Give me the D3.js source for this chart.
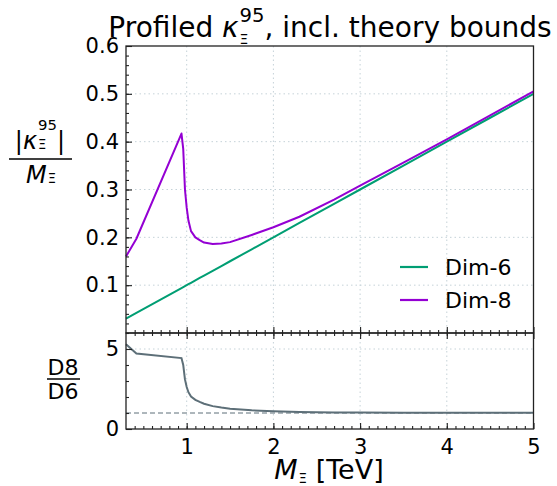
<!DOCTYPE html>
<html lang="en">
<head>
<meta charset="UTF-8">
<title>Profiled kappa</title>
<script src="https://d3js.org/d3.v7.min.js"></script>
<style>
  body { margin: 0; background: white; }
  svg { display: block; }
  text { font-family: "DejaVu Sans", sans-serif; fill: black; white-space: pre; }
  .grid { stroke: #c5d2d8; stroke-width: 1; stroke-dasharray: 1.5 3; }
  .frame { fill: none; stroke: #222; stroke-width: 1.3; }
</style>
</head>
<body>
<svg width="557" height="486"></svg>
<script>
// mass points (TeV)
const mass = [0.3, 0.42, 0.94, 0.96, 0.98, 1.0, 1.02, 1.05, 1.1, 1.15, 1.2, 1.3, 1.4, 1.5,
              1.75, 2.0, 2.3, 2.7, 3.0, 3.5, 4.0, 4.5, 5.0];
const dim6 = [0.030, 0.042, 0.094, 0.096, 0.098, 0.100, 0.102, 0.105, 0.110, 0.115, 0.120, 0.130, 0.140, 0.150,
              0.175, 0.200, 0.230, 0.270, 0.300, 0.350, 0.400, 0.450, 0.500];
const dim8 = [0.160, 0.197, 0.417, 0.385, 0.300, 0.262, 0.235, 0.213, 0.200, 0.194, 0.189, 0.186, 0.187, 0.190,
              0.205, 0.221, 0.243, 0.279, 0.308, 0.356, 0.405, 0.455, 0.505];
const ratio = [5.30, 4.72, 4.43, 4.0, 3.1, 2.62, 2.30, 2.03, 1.82, 1.69, 1.58, 1.43, 1.34, 1.27,
               1.17, 1.11, 1.06, 1.03, 1.03, 1.02, 1.01, 1.01, 1.01];
const xTicks = [1, 2, 3, 4, 5];
const yTicksTop = [0.1, 0.2, 0.3, 0.4, 0.5, 0.6];
const yTicksBot = [0, 5];
const series = [
  {name: "Dim-6", values: dim6, color: "#009e73"},
  {name: "Dim-8", values: dim8, color: "#9400d3"}
];

const svg = d3.select("svg");
const L = 126, R = 533.5, T1 = 46, B1 = 333, T2 = 333, B2 = 429;

const x = d3.scaleLinear().domain([0.3, 5]).range([L, R]);
const y1 = d3.scaleLinear().domain([0, 0.6]).range([B1, T1]);
const y2 = d3.scaleLinear().domain([0, 6]).range([B2, T2]);

// grids
function grid(yScale, yt, top, bottom) {
  svg.append("g").selectAll("line").data(xTicks.filter(d => d < 5)).join("line")
    .attr("class", "grid").attr("x1", d => x(d)).attr("x2", d => x(d))
    .attr("y1", top).attr("y2", bottom);
  svg.append("g").selectAll("line").data(yt).join("line")
    .attr("class", "grid").attr("x1", L).attr("x2", R)
    .attr("y1", d => yScale(d)).attr("y2", d => yScale(d));
}
grid(y1, [0.1, 0.2, 0.3, 0.4, 0.5], T1, B1);
grid(y2, [5], T2, B2);

// dashed reference line at ratio 1
svg.append("line").attr("x1", L).attr("x2", R).attr("y1", y2(1)).attr("y2", y2(1))
  .attr("stroke", "#5d6f78").attr("stroke-width", 1).attr("stroke-dasharray", "5 3");

// curves
const line1 = d3.line().x((d, i) => x(mass[i])).y(d => y1(d));
series.forEach(s => {
  svg.append("path").datum(s.values).attr("d", line1)
    .attr("fill", "none").attr("stroke", s.color).attr("stroke-width", 2)
    .attr("stroke-linejoin", "round");
});
const line2 = d3.line().x((d, i) => x(mass[i])).y(d => y2(d));
svg.append("path").datum(ratio).attr("d", line2)
  .attr("fill", "none").attr("stroke", "#5d6f78").attr("stroke-width", 2);

// axes (inward ticks)
function ax(axis, tx, ty) {
  const g = svg.append("g").attr("transform", `translate(${tx},${ty})`).call(axis);
  g.select(".domain").remove();
  g.selectAll(".tick line").attr("stroke", "#222").attr("stroke-width", 1.1);
  g.selectAll("text").attr("font-size", 21).attr("font-family", "DejaVu Sans");
  return g;
}
const minorX = d3.range(4, 50).map(d => d / 10).filter(d => d >= 0.3);
// upper panel: left + bottom
ax(d3.axisLeft(y1).tickValues(yTicksTop).tickSize(-6).tickPadding(7).tickFormat(d3.format(".1f")), L, 0);
ax(d3.axisLeft(y1).tickValues(d3.range(1, 30).map(d => d / 50)).tickSize(-3).tickFormat(""), L, 0);
ax(d3.axisBottom(x).tickValues(xTicks).tickSize(-6).tickFormat(""), 0, B1);
ax(d3.axisBottom(x).tickValues(minorX).tickSize(-3).tickFormat(""), 0, B1);
// lower panel: left + top + bottom
ax(d3.axisLeft(y2).tickValues(yTicksBot).tickSize(-6).tickPadding(7).tickFormat(d3.format("d")), L, 0);
ax(d3.axisLeft(y2).tickValues([1, 2, 3, 4, 6]).tickSize(-3).tickFormat(""), L, 0);
ax(d3.axisTop(x).tickValues(xTicks).tickSize(-6).tickFormat(""), 0, T2);
ax(d3.axisTop(x).tickValues(minorX).tickSize(-3).tickFormat(""), 0, T2);
ax(d3.axisBottom(x).tickValues(xTicks).tickSize(-6).tickPadding(10).tickFormat(d3.format("d")), 0, B2);
ax(d3.axisBottom(x).tickValues(minorX).tickSize(-3).tickFormat(""), 0, B2);

// frames
svg.append("rect").attr("class", "frame").attr("x", L).attr("y", T1).attr("width", R - L).attr("height", B1 - T1);
svg.append("rect").attr("class", "frame").attr("x", L).attr("y", T2).attr("width", R - L).attr("height", B2 - T2);

// math text helper: items are plain/italic runs or stacked sup/sub scripts
function mathText(items, size, opt) {
  const o = Object.assign({supDy: -0.5, subDy: 0.3, supSize: 0.7, subSize: 0.5}, opt || {});
  const g = svg.append("g");
  let cx = 0;
  items.forEach(it => {
    if (it.sup !== undefined || it.sub !== undefined) {
      let w = 0;
      if (it.sup) {
        const t = g.append("text").attr("x", cx + 1).attr("y", size * o.supDy)
          .attr("font-size", size * o.supSize).text(it.sup);
        w = Math.max(w, t.node().getComputedTextLength());
      }
      if (it.sub) {
        const t = g.append("text").attr("x", cx + 1).attr("y", size * o.subDy)
          .attr("font-size", size * o.subSize).text(it.sub);
        w = Math.max(w, t.node().getComputedTextLength());
      }
      cx += w + 1;
    } else {
      const t = g.append("text").attr("x", cx).attr("font-size", size)
        .attr("font-style", it.italic ? "italic" : null).text(it.t);
      cx += t.node().getComputedTextLength();
    }
  });
  return {g, w: cx};
}
function place(m, cx, baseline) {
  m.g.attr("transform", `translate(${cx - m.w / 2},${baseline})`);
}

// title
place(mathText([{t: "Profiled "}, {t: "κ", italic: true}, {sup: "95", sub: "Ξ"},
                {t: ", incl. theory bounds"}], 28, {supDy: -0.55, subDy: 0.25, subSize: 0.5}), 330, 37);

// x label
place(mathText([{t: "M", italic: true}, {sub: "Ξ"}, {t: " [TeV]"}], 27, {subDy: 0.15, subSize: 0.5}), 329, 479);

// upper y label (fraction)
place(mathText([{t: "|"}, {t: "κ", italic: true}, {sup: "95", sub: "Ξ"}, {t: "|"}], 24,
               {supDy: -0.8, subDy: 0.0, supSize: 0.62, subSize: 0.55}), 40, 149);
svg.append("line").attr("x1", 9).attr("x2", 72).attr("y1", 159).attr("y2", 159)
  .attr("stroke", "black").attr("stroke-width", 1.5);
place(mathText([{t: "M", italic: true}, {sub: "Ξ"}], 24, {subDy: 0.0, subSize: 0.55}), 41, 183);

// lower y label (fraction)
place(mathText([{t: "D8"}], 22), 63, 375);
svg.append("line").attr("x1", 47).attr("x2", 80).attr("y1", 379).attr("y2", 379)
  .attr("stroke", "black").attr("stroke-width", 1.5);
place(mathText([{t: "D6"}], 22), 63, 399);

// legend
const leg = svg.append("g").attr("transform", "translate(400,267)");
series.forEach((s, i) => {
  const row = leg.append("g").attr("transform", `translate(0,${i * 33})`);
  row.append("line").attr("x1", 0).attr("x2", 28).attr("stroke", s.color).attr("stroke-width", 2.2);
  row.append("text").attr("x", 45).attr("y", 8).attr("font-size", 22).text(s.name);
});
</script>
</body>
</html>
